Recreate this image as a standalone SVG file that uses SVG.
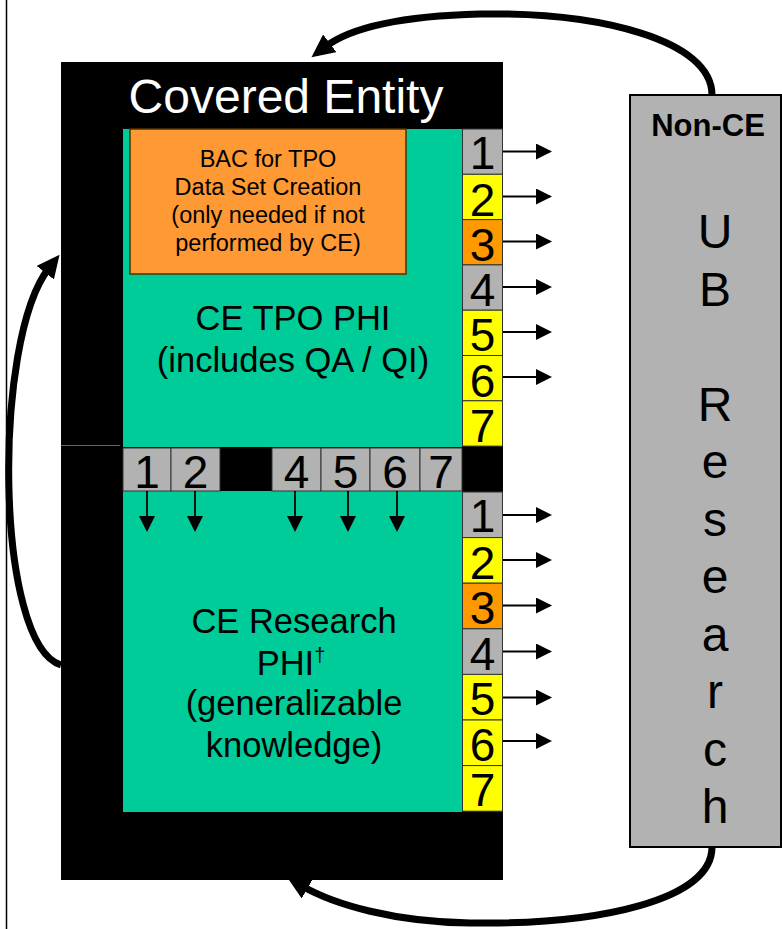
<svg xmlns="http://www.w3.org/2000/svg" width="782" height="929" viewBox="0 0 782 929">
<style>
text{font-family:"Liberation Sans",Arial,sans-serif;fill:#000}
.num{font-size:46px;text-anchor:middle}
.mid{text-anchor:middle}
.gray{fill:#b2b2b2;stroke:#333;stroke-width:1}
.yel{fill:#ffff00;stroke:#333;stroke-width:1}
.org{fill:#ff9900;stroke:#333;stroke-width:1}
.thin{stroke:#000;stroke-width:1.8;fill:none;marker-end:url(#sm)}
.big{stroke:#000;stroke-width:7;fill:none;marker-end:url(#bg)}
.green{fill:#00cc99}
</style>
<defs>
<marker id="sm" markerUnits="userSpaceOnUse" markerWidth="16" markerHeight="16" refX="14" refY="8" orient="auto">
<path d="M0,0 L16,8 L0,16 z" fill="#000"/>
</marker>
<marker id="bg" markerUnits="userSpaceOnUse" markerWidth="24" markerHeight="24" refX="6" refY="11" orient="auto">
<path d="M0,0 L23,11 L0,22 z" fill="#000"/>
</marker>
</defs>
<rect width="782" height="929" fill="#fff"/>
<line x1="6.5" y1="0" x2="6.5" y2="929" stroke="#000" stroke-width="1.5"/>

<g id="covered-entity">
<rect x="61" y="62" width="442" height="818" fill="#000"/>
<text x="286" y="113" class="mid" font-size="48" style="fill:#fff">Covered Entity</text>
<line x1="61" y1="445.5" x2="120" y2="445.5" stroke="#666" stroke-width="1"/>
</g>

<g id="ce-tpo-phi">
<rect class="green" x="123" y="129" width="339" height="318"/>
<text x="293" y="330" class="mid" font-size="34.5">CE TPO PHI</text>
<text x="293" y="372" class="mid" font-size="34.5">(includes QA / QI)</text>
</g>

<g id="bac">
<rect x="130" y="129" width="276" height="145" fill="#ff9933" stroke="#4d3300" stroke-width="1.5"/>
<text x="268" y="166.5" class="mid" font-size="23.5">BAC for TPO</text>
<text x="268" y="195" class="mid" font-size="23.5">Data Set Creation</text>
<text x="268" y="223" class="mid" font-size="23.5">(only needed if not</text>
<text x="268" y="251" class="mid" font-size="23.5">performed by CE)</text>
</g>

<g id="ce-research-phi">
<rect class="green" x="123" y="491" width="339" height="321"/>
<text x="294" y="633" class="mid" font-size="34.5">CE Research</text>
<text x="291" y="675" class="mid" font-size="34.5">PHI<tspan font-size="20" dy="-13">†</tspan></text>
<text x="294" y="715" class="mid" font-size="34.5">(generalizable</text>
<text x="294" y="757" class="mid" font-size="34.5">knowledge)</text>
</g>

<g id="tpo-column">
<rect class="gray" x="462.5" y="129" width="40" height="45.3"/>
<rect class="yel" x="462.5" y="174.3" width="40" height="45.3"/>
<rect class="org" x="462.5" y="219.6" width="40" height="45.3"/>
<rect class="gray" x="462.5" y="264.9" width="40" height="45.3"/>
<rect class="yel" x="462.5" y="310.2" width="40" height="45.3"/>
<rect class="yel" x="462.5" y="355.5" width="40" height="45.3"/>
<rect class="yel" x="462.5" y="400.8" width="40" height="45.3"/>
<text class="num" x="482.5" y="169">1</text>
<text class="num" x="482.5" y="216">2</text>
<text class="num" x="482.5" y="261">3</text>
<text class="num" x="482.5" y="306">4</text>
<text class="num" x="482.5" y="351">5</text>
<text class="num" x="482.5" y="397">6</text>
<text class="num" x="482.5" y="442">7</text>
</g>

<g id="research-column">
<rect class="gray" x="462.5" y="492" width="40" height="45.6"/>
<rect class="yel" x="462.5" y="537.6" width="40" height="45.6"/>
<rect class="org" x="462.5" y="583.2" width="40" height="45.6"/>
<rect class="gray" x="462.5" y="628.8" width="40" height="45.6"/>
<rect class="yel" x="462.5" y="674.4" width="40" height="45.6"/>
<rect class="yel" x="462.5" y="720" width="40" height="45.6"/>
<rect class="yel" x="462.5" y="765.6" width="40" height="45.6"/>
<text class="num" x="482.5" y="532">1</text>
<text class="num" x="482.5" y="579">2</text>
<text class="num" x="482.5" y="624">3</text>
<text class="num" x="482.5" y="670">4</text>
<text class="num" x="482.5" y="715">5</text>
<text class="num" x="482.5" y="761">6</text>
<text class="num" x="482.5" y="806">7</text>
</g>

<g id="transfer-row">
<rect class="gray" x="123" y="448" width="48" height="43"/>
<rect class="gray" x="171" y="448" width="49" height="43"/>
<rect class="gray" x="272" y="448" width="49" height="43"/>
<rect class="gray" x="321" y="448" width="49" height="43"/>
<rect class="gray" x="370" y="448" width="50" height="43"/>
<rect class="gray" x="420" y="448" width="42" height="43"/>
<text class="num" x="147" y="488">1</text>
<text class="num" x="195.5" y="488">2</text>
<text class="num" x="296.5" y="488">4</text>
<text class="num" x="345.5" y="488">5</text>
<text class="num" x="395" y="488">6</text>
<text class="num" x="441" y="488">7</text>
</g>

<g id="non-ce">
<rect x="630" y="95" width="151" height="752" fill="#b2b2b2" stroke="#000" stroke-width="2"/>
<text x="708" y="136" class="mid" font-size="31" font-weight="bold">Non-CE</text>
<g class="mid" font-size="48">
<text x="715" y="248">U</text>
<text x="715" y="305.5">B</text>
<text x="715" y="420.5">R</text>
<text x="715" y="478">e</text>
<text x="715" y="535.5">s</text>
<text x="715" y="593">e</text>
<text x="715" y="650.5">a</text>
<text x="715" y="708">r</text>
<text x="715" y="765.5">c</text>
<text x="715" y="823">h</text>
</g>
</g>

<g id="connectors">
<path class="thin" d="M503 151.5 H550"/>
<path class="thin" d="M503 196.5 H550"/>
<path class="thin" d="M503 241.5 H550"/>
<path class="thin" d="M503 287 H550"/>
<path class="thin" d="M503 332 H550"/>
<path class="thin" d="M503 377 H550"/>
<path class="thin" d="M503 515 H550"/>
<path class="thin" d="M503 560 H550"/>
<path class="thin" d="M503 605.5 H550"/>
<path class="thin" d="M503 651.5 H550"/>
<path class="thin" d="M503 697.5 H550"/>
<path class="thin" d="M503 741 H550"/>
<path class="thin" d="M147 491 V530"/>
<path class="thin" d="M195 491 V530"/>
<path class="thin" d="M295 491 V530"/>
<path class="thin" d="M348 491 V530"/>
<path class="thin" d="M397 491 V530"/>
<path class="big" d="M712 95 C712 40 600 12 480 14 C400 16 350 28 325 47"/>
<path class="big" d="M61 665 C-5 645 -8 340 49 268"/>
<path class="big" d="M712 847 C712 900 600 925 470 923 C395 922 335 905 302 886"/>
</g>
</svg>
